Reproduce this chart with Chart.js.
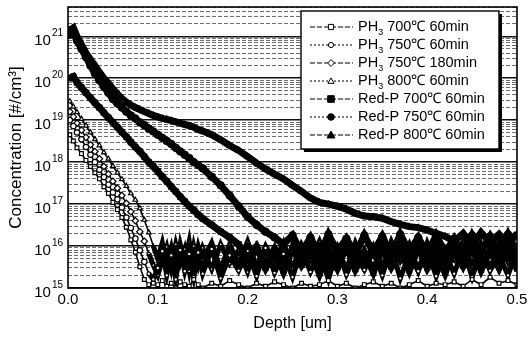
<!DOCTYPE html>
<html>
<head>
<meta charset="utf-8">
<script src="https://cdn.jsdelivr.net/npm/chart.js@4.4.1/dist/chart.umd.min.js"></script>
<style>
  html, body { margin: 0; padding: 0; background: #fff; }
</style>
</head>
<body>
<canvas id="simsChart" width="531" height="343"></canvas>
<script>
// depth points (um) shared by every profile
const depth = [
  0.002, 0.006, 0.010, 0.015, 0.020, 0.025, 0.030, 0.035, 0.040, 0.045,
  0.050, 0.055, 0.060, 0.065, 0.070, 0.075, 0.080, 0.085, 0.090, 0.095,
  0.100, 0.105, 0.110, 0.115, 0.120, 0.125, 0.130, 0.135, 0.140, 0.145,
  0.150, 0.16, 0.17, 0.18, 0.19, 0.20, 0.21, 0.22, 0.23, 0.24,
  0.25, 0.26, 0.27, 0.28, 0.29, 0.30, 0.31, 0.32, 0.33, 0.34,
  0.35, 0.36, 0.37, 0.38, 0.39, 0.40, 0.41, 0.42, 0.43, 0.44,
  0.45, 0.46, 0.47, 0.48, 0.49, 0.50
];

// concentrations (#/cm3)
const ph3_700_60 = [
  4.5e18, 3.2e18, 2.2e18, 1.6e18, 1.1e18, 7.9e17, 5.6e17, 4.0e17, 2.6e17, 1.8e17,
  1.1e17, 7.4e16, 4.8e16, 2.8e16, 1.4e16, 7.1e15, 3.2e15, 1.6e15, 1.2e15, 1.3e15,
  1.2e15, 1.5e15, 1.1e15, 1.3e15, 1.0e15, 1.4e15, 1.2e15, 1.1e15, 1.6e15, 1.2e15,
  1.0e15, 1.3e15, 1.1e15, 1.5e15, 1.2e15, 1.0e15, 1.3e15, 1.1e15, 1.4e15, 1.2e15,
  1.0e15, 1.3e15, 1.1e15, 1.2e15, 1.5e15, 1.1e15, 1.3e15, 1.0e15, 1.2e15, 1.4e15,
  1.1e15, 1.3e15, 1.0e15, 1.2e15, 1.5e15, 1.1e15, 1.3e15, 1.2e15, 1.4e15, 1.1e15,
  1.6e15, 1.2e15, 1.8e15, 1.3e15, 1.5e15, 1.2e15
];
const ph3_750_60 = [
  1.0e19, 7.2e18, 5.1e18, 3.5e18, 2.3e18, 1.5e18, 1.0e18, 6.6e17, 4.4e17, 2.9e17,
  1.9e17, 1.3e17, 8.3e16, 4.8e16, 2.7e16, 1.5e16, 7.9e15, 4.2e15, 2.2e15, 1.6e15,
  3.0e15, 7.5e15, 2.0e15, 6.0e15, 1.6e15, 8.0e15, 2.5e15, 6.5e15, 1.8e15, 7.0e15,
  2.2e15, 8.5e15, 1.7e15, 6.0e15, 2.6e15, 7.5e15, 1.9e15, 9.0e15, 2.3e15, 6.5e15,
  1.8e15, 8.0e15, 2.4e15, 7.0e15, 1.6e15, 8.5e15, 2.1e15, 6.0e15, 2.7e15, 7.5e15,
  2.0e15, 9.0e15, 1.7e15, 6.5e15, 2.5e15, 8.0e15, 1.9e15, 7.0e15, 2.2e15, 8.5e15,
  1.8e15, 7.5e15, 2.6e15, 6.0e15, 2.0e15, 8.0e15
];
const ph3_750_180 = [
  1.6e19, 1.2e19, 8.5e18, 5.8e18, 3.9e18, 2.6e18, 1.8e18, 1.2e18, 7.9e17, 5.2e17,
  3.5e17, 2.4e17, 1.6e17, 1.05e17, 6.6e16, 4.0e16, 2.2e16, 1.3e16, 6.6e15, 3.5e15,
  2.0e15, 4.5e15, 9.5e15, 3.0e15, 1.1e16, 4.0e15, 8.5e15, 2.5e15, 1.0e16, 3.5e15,
  9.0e15, 2.8e15, 1.1e16, 3.8e15, 8.0e15, 2.4e15, 1.0e16, 4.2e15, 9.5e15, 3.0e15,
  8.5e15, 3.6e15, 1.1e16, 2.6e15, 9.0e15, 4.0e15, 1.0e16, 3.2e15, 8.0e15, 2.8e15,
  9.5e15, 3.4e15, 1.05e16, 4.4e15, 8.5e15, 2.9e15, 1.0e16, 3.7e15, 9.0e15, 3.1e15,
  1.1e16, 3.9e15, 8.5e15, 2.7e15, 9.5e15, 3.5e15
];
const ph3_800_60 = [
  2.8e19, 2.1e19, 1.55e19, 1.07e19, 7.4e18, 5.1e18, 3.5e18, 2.5e18, 1.7e18, 1.2e18,
  8.1e17, 5.6e17, 3.9e17, 2.7e17, 1.8e17, 1.26e17, 7.9e16, 4.2e16, 2.1e16, 1.0e16,
  5.0e15, 1.2e16, 3.5e15, 9.0e15, 2.5e15, 1.1e16, 4.0e15, 1.3e16, 3.0e15, 1.0e16,
  4.5e15, 1.2e16, 2.8e15, 1.1e16, 3.8e15, 1.3e16, 3.2e15, 1.0e16, 4.2e15, 1.2e16,
  2.9e15, 1.1e16, 4.6e15, 1.3e16, 3.4e15, 9.5e15, 2.7e15, 1.2e16, 4.0e15, 1.0e16,
  3.1e15, 1.3e16, 4.4e15, 1.1e16, 2.6e15, 1.2e16, 3.6e15, 9.0e15, 4.8e15, 1.3e16,
  3.3e15, 1.1e16, 2.8e15, 1.2e16, 4.1e15, 1.0e16
];
const redp_700_60 = [
  1.0e20, 1.1e20, 7.9e19, 6.0e19, 4.5e19, 3.4e19, 2.6e19, 2.0e19, 1.5e19, 1.15e19,
  8.9e18, 6.8e18, 5.2e18, 4.0e18, 3.0e18, 2.3e18, 1.8e18, 1.35e18, 1.0e18, 7.9e17,
  6.0e17, 4.5e17, 3.5e17, 2.6e17, 2.0e17, 1.5e17, 1.15e17, 8.9e16, 7.1e16, 5.6e16,
  4.5e16, 3.2e16, 2.2e16, 1.6e16, 1.1e16, 5.0e15, 9.5e15, 3.0e15, 8.0e15, 2.5e15,
  9.0e15, 3.5e15, 7.5e15, 2.2e15, 8.5e15, 3.0e15, 1.0e16, 2.8e15, 7.0e15, 2.4e15,
  9.0e15, 3.2e15, 8.0e15, 2.6e15, 9.5e15, 3.0e15, 7.5e15, 2.3e15, 8.5e15, 3.4e15,
  9.0e15, 2.7e15, 8.0e15, 3.1e15, 9.5e15, 2.9e15
];
const redp_750_60 = [
  1.1e21, 1.2e21, 7.9e20, 5.0e20, 3.2e20, 2.0e20, 1.3e20, 8.9e19, 6.3e19, 4.5e19,
  3.2e19, 2.5e19, 2.0e19, 1.6e19, 1.3e19, 1.1e19, 8.9e18, 7.6e18, 6.3e18, 5.4e18,
  4.5e18, 3.8e18, 3.2e18, 2.7e18, 2.2e18, 1.8e18, 1.5e18, 1.25e18, 1.0e18, 8.5e17,
  7.1e17, 4.5e17, 2.8e17, 1.6e17, 8.9e16, 5.0e16, 3.2e16, 2.2e16, 1.6e16, 1.1e16,
  1.8e16, 7.0e15, 1.6e16, 6.0e15, 1.9e16, 7.5e15, 1.5e16, 6.5e15, 1.8e16, 7.0e15,
  1.7e16, 6.0e15, 1.9e16, 7.5e15, 1.6e16, 6.5e15, 1.8e16, 7.0e15, 1.5e16, 6.0e15,
  1.8e16, 7.5e15, 1.7e16, 6.5e15, 1.9e16, 7.0e15
];
const redp_800_60 = [
  1.4e21, 1.6e21, 1.0e21, 6.3e20, 4.0e20, 2.8e20, 2.0e20, 1.4e20, 1.0e20, 7.6e19,
  5.6e19, 4.2e19, 3.3e19, 2.7e19, 2.3e19, 2.0e19, 1.8e19, 1.6e19, 1.45e19, 1.3e19,
  1.2e19, 1.1e19, 1.05e19, 9.8e18, 9.1e18, 8.5e18, 7.9e18, 7.4e18, 6.8e18, 6.0e18,
  5.5e18, 4.5e18, 3.4e18, 2.5e18, 1.9e18, 1.35e18, 9.5e17, 6.9e17, 5.2e17, 4.0e17,
  2.8e17, 2.0e17, 1.4e17, 1.1e17, 1.0e17, 8.9e16, 7.6e16, 6.0e16, 5.2e16, 5.0e16,
  4.6e16, 3.8e16, 3.3e16, 2.9e16, 2.75e16, 2.4e16, 2.0e16, 1.7e16, 1.3e16, 2.0e16,
  1.0e16, 2.1e16, 1.2e16, 1.9e16, 1.1e16, 2.0e16
];

const seriesLabels = [
  "PH₃ 700℃ 60min", "PH₃ 750℃ 60min", "PH₃ 750℃ 180min", "PH₃ 800℃ 60min",
  "Red-P 700℃ 60min", "Red-P 750℃ 60min", "Red-P 800℃ 60min"
];
const xTickValues = [0, 0.1, 0.2, 0.3, 0.4, 0.5];
const yDecades = [15, 16, 17, 18, 19, 20, 21];
const yMin = 1e15, yMax = 5e21;

const FONT = '"Liberation Sans", Arial, Helvetica, sans-serif';

function toPoints(values) {
  return depth.map((d, i) => ({ x: d, y: values[i] }));
}

// the noisy background tail of each profile is drawn as a dense black band
function inTail(x, y) {
  return x > 0.085 && y < 1.4e16;
}

function openSeries(label, values, style, order) {
  return {
    label: label,
    order: order,
    data: toPoints(values),
    borderColor: "#000",
    borderWidth: 1.6,
    segment: {
      borderWidth: (c) => inTail(c.p0.parsed.x, c.p0.parsed.y) && style !== "rect" ? 5 : 1.6
    },
    pointStyle: style,
    pointRadius: (c) => {
      const p = c.parsed;
      if (p && style !== "rect" && inTail(p.x, p.y)) return 1.8;
      return style === "rectRot" ? 3.2 : 2.7;
    },
    pointBorderWidth: 1.2,
    pointBorderColor: "#000",
    pointBackgroundColor: "#fff",
    fill: false,
    tension: 0
  };
}

function solidSeries(label, values, style, order) {
  return {
    label: label,
    order: order,
    data: toPoints(values),
    borderColor: "#000",
    borderWidth: 7,
    pointStyle: style,
    pointRadius: 3.8,
    pointBorderWidth: 1,
    pointBorderColor: "#000",
    pointBackgroundColor: "#000",
    fill: false,
    tension: 0
  };
}

const datasets = [
  openSeries(seriesLabels[0], ph3_700_60, "rect", 0),
  openSeries(seriesLabels[1], ph3_750_60, "circle", 2),
  openSeries(seriesLabels[2], ph3_750_180, "rectRot", 2),
  openSeries(seriesLabels[3], ph3_800_60, "triangle", 2),
  solidSeries(seriesLabels[4], redp_700_60, "rect", 1),
  solidSeries(seriesLabels[5], redp_750_60, "circle", 1),
  solidSeries(seriesLabels[6], redp_800_60, "triangle", 1)
];

function isDecade(v) {
  const l = Math.log10(v);
  return Math.abs(l - Math.round(l)) < 1e-9;
}

// frame around the plot area
const frame = {
  id: "frame",
  afterDatasetsDraw(chart) {
    const { ctx, chartArea: a } = chart;
    ctx.save();
    ctx.strokeStyle = "#000";
    ctx.lineWidth = 1.6;
    ctx.strokeRect(a.left, a.top, a.right - a.left, a.bottom - a.top);
    ctx.restore();
  }
};

// y labels as 10 with a raised exponent
const decadeLabels = {
  id: "decadeLabels",
  afterDraw(chart) {
    const ctx = chart.ctx;
    const y = chart.scales.y;
    const right = chart.chartArea.left - 5;
    ctx.save();
    ctx.fillStyle = "#000";
    ctx.textBaseline = "middle";
    yDecades.forEach(n => {
      const py = y.getPixelForValue(Math.pow(10, n));
      ctx.font = "10px " + FONT;
      const exp = String(n);
      const ew = ctx.measureText(exp).width;
      ctx.textAlign = "left";
      ctx.fillText(exp, right - ew, py - 3);
      ctx.font = "15px " + FONT;
      ctx.textAlign = "right";
      ctx.fillText("10", right - ew - 1, py + 5);
    });
    ctx.restore();
  }
};

function drawMarker(ctx, style, filled, x, y, r) {
  ctx.beginPath();
  if (style === "rect") {
    ctx.rect(x - r, y - r, 2 * r, 2 * r);
  } else if (style === "circle") {
    ctx.arc(x, y, r, 0, Math.PI * 2);
  } else if (style === "rectRot") {
    ctx.moveTo(x, y - r * 1.3);
    ctx.lineTo(x + r * 1.3, y);
    ctx.lineTo(x, y + r * 1.3);
    ctx.lineTo(x - r * 1.3, y);
    ctx.closePath();
  } else {
    ctx.moveTo(x, y - r * 1.2);
    ctx.lineTo(x + r * 1.2, y + r * 0.9);
    ctx.lineTo(x - r * 1.2, y + r * 0.9);
    ctx.closePath();
  }
  ctx.fillStyle = filled ? "#000" : "#fff";
  ctx.fill();
  ctx.lineWidth = 1;
  ctx.strokeStyle = "#000";
  ctx.stroke();
}

// boxed legend with line + marker samples
const boxLegend = {
  id: "boxLegend",
  afterDraw(chart) {
    const ctx = chart.ctx;
    const bx = 301, by = 11, bw = 198, bh = 138;
    ctx.save();
    ctx.fillStyle = "#000";
    ctx.fillRect(bx + 3, by + 3, bw, bh);
    ctx.fillStyle = "#fff";
    ctx.fillRect(bx, by, bw, bh);
    ctx.strokeStyle = "#000";
    ctx.lineWidth = 1.4;
    ctx.strokeRect(bx, by, bw, bh);

    chart.data.datasets.forEach((ds, i) => {
      const cy = by + 16 + i * 18;
      const filled = ds.pointBackgroundColor === "#000";
      ctx.strokeStyle = "#000";
      ctx.lineWidth = 1;
      ctx.setLineDash(i % 2 ? [2, 2] : [5, 2]);
      ctx.beginPath();
      ctx.moveTo(bx + 9, cy);
      ctx.lineTo(bx + 52, cy);
      ctx.stroke();
      ctx.setLineDash([]);
      drawMarker(ctx, ds.pointStyle, filled, bx + 30, cy, filled ? 3.3 : 2.6);

      ctx.fillStyle = "#000";
      ctx.textBaseline = "middle";
      ctx.textAlign = "left";
      let tx = bx + 57;
      const parts = ds.label.split("₃");
      ctx.font = "14.5px " + FONT;
      if (parts.length > 1) {
        ctx.fillText(parts[0], tx, cy);
        tx += ctx.measureText(parts[0]).width;
        ctx.font = "9px " + FONT;
        ctx.fillText("3", tx, cy + 6);
        tx += ctx.measureText("3").width;
        ctx.font = "14.5px " + FONT;
        ctx.fillText(parts[1], tx, cy);
      } else {
        ctx.fillText(ds.label, tx, cy);
      }
    });
    ctx.restore();
  }
};

new Chart(document.getElementById("simsChart"), {
  type: "line",
  data: { datasets: datasets },
  plugins: [frame, decadeLabels, boxLegend],
  options: {
    responsive: false,
    animation: false,
    layout: { padding: { top: 7, right: 14, left: 0, bottom: 0 } },
    plugins: {
      legend: { display: false },
      tooltip: { enabled: false }
    },
    scales: {
      x: {
        type: "linear",
        min: 0,
        max: 0.5,
        afterBuildTicks: (scale) => {
          scale.ticks = xTickValues.map(v => ({ value: v }));
        },
        afterFit: (scale) => { scale.height = 55; },
        grid: { display: false, drawTicks: false },
        border: { display: false },
        ticks: {
          color: "#000",
          padding: 3,
          maxRotation: 0,
          font: { family: FONT, size: 15 },
          callback: (v) => Number(v).toFixed(1)
        },
        title: {
          display: true,
          text: "Depth [um]",
          color: "#000",
          font: { family: FONT, size: 16 },
          padding: { top: 0, bottom: 10 }
        }
      },
      y: {
        type: "logarithmic",
        min: yMin,
        max: yMax,
        afterBuildTicks: (scale) => {
          const t = [];
          yDecades.forEach(n => {
            for (let m = 1; m <= 9; m++) {
              const v = m * Math.pow(10, n);
              if (v <= yMax) t.push({ value: v, major: m === 1 });
            }
          });
          scale.ticks = t;
        },
        afterFit: (scale) => { scale.width = 68; },
        ticks: { display: false, autoSkip: false },
        grid: {
          drawTicks: false,
          color: (c) => (c.tick && isDecade(c.tick.value)) ? "#111" : "#6d6d6d",
          lineWidth: (c) => (c.tick && isDecade(c.tick.value)) ? 1.6 : 1
        },
        border: {
          display: false,
          dash: (c) => (c.tick && !isDecade(c.tick.value)) ? [4, 2] : []
        },
        title: {
          display: true,
          text: "Concentration [#/cm³]",
          color: "#000",
          font: { family: FONT, size: 17 },
          padding: { top: 6, bottom: 0 }
        }
      }
    }
  }
});
</script>
</body>
</html>
